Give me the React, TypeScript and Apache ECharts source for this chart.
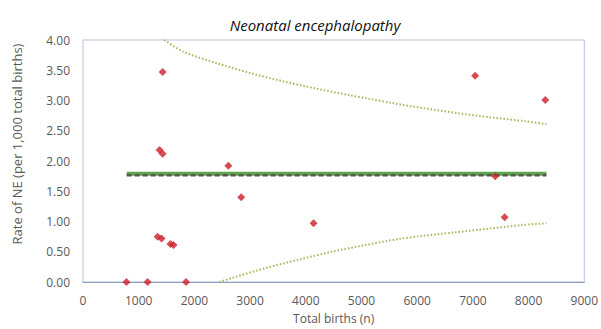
import React, { useEffect, useRef } from "react";
import * as echarts from "echarts";

const births = [780, 1160, 1850, 1340, 1410, 1570, 1625, 2610, 2840, 4140, 7570, 7400, 1430, 1375, 1430, 7040, 8300];
const rates = [0.0, 0.0, 0.0, 0.75, 0.72, 0.63, 0.61, 1.92, 1.4, 0.97, 1.07, 1.75, 3.47, 2.18, 2.12, 3.41, 3.01];

const meanX = [785, 8320];
const meanSolid = 1.79;
const meanDashed = 1.765;

const upperX = [1464, 1791, 2388, 2982, 3577, 4173, 4768, 5125, 5541, 6137, 6732, 7327, 7923, 8320];
const upperY = [4.0, 3.81, 3.62, 3.46, 3.32, 3.2, 3.09, 3.03, 2.96, 2.87, 2.79, 2.72, 2.66, 2.61];

const lowerX = [2446, 2684, 3280, 3875, 4470, 5066, 5661, 6077, 6673, 7268, 7863, 8320];
const lowerY = [0.0, 0.07, 0.23, 0.37, 0.5, 0.61, 0.71, 0.76, 0.82, 0.88, 0.94, 0.97];

const xTicks = [0, 1000, 2000, 3000, 4000, 5000, 6000, 7000, 8000, 9000];
const yTicks = [0, 0.5, 1, 1.5, 2, 2.5, 3, 3.5, 4];

const FONT = "Open Sans";
const GRAY = "#595959";

export default function App() {
  const ref = useRef<HTMLDivElement>(null);
  useEffect(() => {
    if (!ref.current) return;
    const chart = echarts.init(ref.current, undefined, { renderer: "svg" });
    const zip = (xs: number[], ys: number[]) => xs.map((x, i) => [x, ys[i]]);
    chart.setOption({
      animation: false,
      title: {
        text: "Neonatal encephalopathy",
        left: 310,
        top: 12,
        textAlign: "center",
        textStyle: { fontFamily: FONT, fontStyle: "italic", fontWeight: "normal", fontSize: 15, color: "#111" },
      },
      grid: { left: 83, right: 14, top: 40, bottom: 43, show: true, borderColor: "#b7c1da", borderWidth: 1 },
      xAxis: {
        type: "value",
        min: xTicks[0],
        max: xTicks[xTicks.length - 1],
        interval: 1000,
        name: "Total births (n)",
        nameLocation: "middle",
        nameGap: 30,
        nameTextStyle: { fontFamily: FONT, fontSize: 12, color: GRAY },
        axisLine: { show: true, lineStyle: { color: "#8d9bbd", width: 1 } },
        axisTick: { show: false },
        splitLine: { show: false },
        axisLabel: { fontFamily: FONT, fontSize: 12, color: GRAY, margin: 12, formatter: (v: number) => String(v) },
      },
      yAxis: {
        type: "value",
        min: yTicks[0],
        max: yTicks[yTicks.length - 1],
        interval: 0.5,
        name: "Rate of NE (per 1,000 total births)",
        nameLocation: "middle",
        nameGap: 60,
        nameTextStyle: { fontFamily: FONT, fontSize: 13, color: GRAY, padding: [0, 0, 0, 34] },
        axisLine: { show: false },
        axisTick: { show: false },
        splitLine: { show: false },
        axisLabel: { fontFamily: FONT, fontSize: 12, color: GRAY, margin: 13, formatter: (v: number) => v.toFixed(2) },
      },
      series: [
        {
          type: "line",
          data: zip(upperX, upperY),
          showSymbol: false,
          smooth: 0.3,
          lineStyle: { color: "#a9b45c", width: 2, type: [1.5, 2] },
          z: 2,
        },
        {
          type: "line",
          data: zip(lowerX, lowerY),
          showSymbol: false,
          smooth: 0.3,
          lineStyle: { color: "#a9b45c", width: 2, type: [1.5, 2] },
          z: 2,
        },
        {
          type: "line",
          data: meanX.map((x) => [x, meanSolid]),
          showSymbol: false,
          lineStyle: { color: "#5fa64a", width: 4 },
          z: 3,
        },
        {
          type: "line",
          data: meanX.map((x) => [x, meanDashed]),
          showSymbol: false,
          lineStyle: { color: "#555555", width: 2.5, type: [5, 3] },
          z: 4,
        },
        {
          type: "scatter",
          data: zip(births, rates),
          symbol: "diamond",
          symbolSize: 8,
          itemStyle: { color: "#cc1f2b" },
          z: 5,
        },
      ],
    });
    return () => chart.dispose();
  }, []);
  return <div ref={ref} style={{ position: "absolute", left: 0, top: 0, width: 601, height: 329 }} />;
}
